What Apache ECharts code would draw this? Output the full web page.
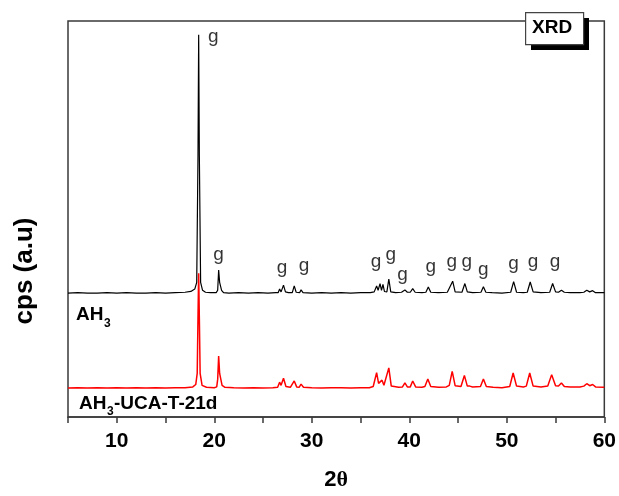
<!DOCTYPE html>
<html>
<head>
<meta charset="utf-8">
<title>XRD</title>
<script src="https://cdn.jsdelivr.net/npm/echarts@6/dist/echarts.min.js"></script>
<style>
  html, body { margin: 0; padding: 0; background: #fff; }
  #chart { width: 619px; height: 496px; }
</style>
</head>
<body>
<div id="chart"></div>
<script>
// 2theta / intensity pairs (raw cps, arbitrary units)
const ah3 = [
  [5, 73], [6, 74], [7, 73], [8, 73], [9, 74], [10, 73], [11, 74], [12, 73], [13, 73], [14, 74],
  [15, 73], [16, 74], [17, 75], [17.6, 77], [18.0, 83], [18.2, 100], [18.33, 420], [18.4, 725],
  [18.47, 420], [18.6, 100], [18.8, 80], [19.1, 75], [19.6, 74], [20.2, 74], [20.35, 80],
  [20.45, 131], [20.55, 100], [20.65, 103], [20.75, 80], [20.95, 74], [21.5, 73], [22.5, 74],
  [23.5, 73], [24.5, 74], [25.5, 73], [26.3, 74], [26.55, 74], [26.7, 83], [26.85, 76], [27.1, 93],
  [27.3, 76], [27.6, 74], [28.0, 74], [28.2, 91], [28.4, 75], [28.75, 74], [28.9, 81], [29.1, 74],
  [30, 73], [31, 74], [32, 73], [33, 74], [34, 73], [35, 74], [36, 74], [36.4, 76], [36.65, 91],
  [36.8, 80], [37.0, 97], [37.15, 80], [37.3, 95], [37.45, 77], [37.7, 76], [37.9, 108], [38.1, 76],
  [38.6, 74], [39.2, 75], [39.55, 81], [39.8, 75], [40.1, 75], [40.35, 84], [40.6, 75], [41.3, 74],
  [41.7, 75], [41.95, 88], [42.2, 75], [43, 74], [43.9, 75], [44.1, 76], [44.45, 103], [44.7, 76],
  [45.4, 75], [45.7, 97], [45.95, 76], [46.5, 74], [47.35, 75], [47.6, 89], [47.85, 75], [48.5, 74],
  [49.5, 73], [50.4, 75], [50.7, 102], [51.0, 75], [51.7, 74], [52.1, 75], [52.4, 101], [52.7, 76],
  [53.5, 74], [54.4, 75], [54.7, 97], [55.0, 76], [55.3, 75], [55.6, 80], [55.9, 75], [56.5, 74],
  [57.5, 74], [57.9, 75], [58.2, 80], [58.5, 76], [58.8, 79], [59.1, 74], [60, 74]
];

const ah3Uca = [
  [5, 73], [6, 74], [7, 73], [8, 74], [9, 73], [10, 74], [11, 73], [12, 74], [13, 73], [14, 74],
  [15, 73], [16, 74], [17, 74], [17.8, 76], [18.1, 82], [18.25, 110], [18.33, 250], [18.4, 363],
  [18.47, 250], [18.55, 110], [18.75, 80], [19.2, 75], [20, 74], [20.25, 76], [20.35, 95],
  [20.45, 154], [20.55, 110], [20.65, 108], [20.8, 80], [21.1, 75], [22, 74], [23, 73], [24, 74],
  [25, 73], [26, 74], [26.5, 75], [26.7, 88], [26.85, 80], [27.1, 98], [27.35, 77], [27.8, 75],
  [28.2, 91], [28.45, 76], [28.7, 75], [28.9, 83], [29.15, 75], [30, 74], [31, 73], [32, 74],
  [33, 74], [34, 73], [35, 74], [35.9, 74], [36.3, 77], [36.65, 112], [36.85, 85], [36.95, 88],
  [37.2, 93], [37.4, 80], [37.6, 78], [37.9, 124], [38.15, 78], [38.9, 75], [39.3, 76], [39.55, 86],
  [39.8, 76], [40.1, 76], [40.35, 91], [40.65, 76], [41.3, 75], [41.6, 77], [41.9, 96], [42.2, 77],
  [43, 75], [43.8, 76], [44.1, 80], [44.4, 115], [44.7, 79], [45.3, 77], [45.65, 105], [45.95, 78],
  [46.2, 78], [46.5, 76], [47.3, 77], [47.6, 96], [47.9, 77], [48.6, 75], [49.5, 74], [50.3, 77],
  [50.65, 111], [51.0, 78], [51.7, 76], [52.0, 78], [52.35, 111], [52.7, 78], [53.5, 76], [54.2, 78],
  [54.6, 107], [55.0, 79], [55.3, 78], [55.6, 86], [55.9, 77], [56.5, 76], [57.5, 76], [57.9, 78],
  [58.2, 84], [58.5, 79], [58.8, 82], [59.1, 76], [60, 75]
];

// vertical offset of the AH3 trace (stacked plot)
const ah3Offset = 240;

// gibbsite ("g") peak marks: 2theta and height of the mark on the stacked plot
const gTheta = [19.9, 20.45, 26.95, 29.2, 36.6, 38.1, 39.3, 42.2, 44.35, 45.9, 47.6, 50.7, 52.7, 54.95];
const gHeight = [961, 409, 377, 382, 393, 409, 358, 379, 393, 393, 373, 386, 392, 392];

const xTicks = [10, 20, 30, 40, 50, 60];

const FONT = 'Liberation Sans, Arial, sans-serif';

const chart = echarts.init(document.getElementById('chart'));

const option = {
  animation: false,
  backgroundColor: '#fff',
  grid: {
    left: 68,
    right: 13,
    top: 21,
    bottom: 78,
    show: true,
    borderColor: '#3a3a3a',
    borderWidth: 1.5
  },
  xAxis: {
    type: 'value',
    min: 5,
    max: 60,
    interval: 5,
    name: '{n|2}{t|θ}',
    nameLocation: 'middle',
    nameGap: 52,
    nameTextStyle: {
      rich: {
        n: { fontFamily: FONT, fontWeight: 'bold', fontSize: 22, color: '#000' },
        t: { fontFamily: 'Liberation Serif, Times New Roman, serif', fontWeight: 'bold', fontSize: 22, color: '#000' }
      }
    },
    axisLine: { show: true, lineStyle: { color: '#3a3a3a', width: 1.5 } },
    axisTick: { show: true, inside: false, length: 6, lineStyle: { color: '#3a3a3a', width: 1.5 } },
    splitLine: { show: false },
    axisLabel: {
      margin: 14,
      fontFamily: FONT,
      fontWeight: 'bold',
      fontSize: 21,
      color: '#000',
      formatter: function (v) {
        return xTicks.indexOf(v) >= 0 ? String(v) : '';
      }
    }
  },
  yAxis: {
    type: 'value',
    min: 0,
    max: 1000,
    axisLine: { show: false },
    axisTick: { show: false },
    axisLabel: { show: false },
    splitLine: { show: false }
  },
  series: [
    {
      name: 'AH3',
      type: 'line',
      data: ah3.map(function (p) { return [p[0], p[1] + ah3Offset]; }),
      showSymbol: false,
      symbol: 'none',
      lineStyle: { color: '#000', width: 1.2 },
      silent: true,
      z: 3
    },
    {
      name: 'AH3-UCA-T-21d',
      type: 'line',
      data: ah3Uca,
      showSymbol: false,
      symbol: 'none',
      lineStyle: { color: '#ff0000', width: 1.5 },
      silent: true,
      z: 2
    },
    {
      name: 'g',
      type: 'scatter',
      data: gTheta.map(function (t, i) { return [t, gHeight[i]]; }),
      symbolSize: 1,
      itemStyle: { color: 'rgba(0,0,0,0)' },
      silent: true,
      label: {
        show: true,
        position: 'inside',
        formatter: 'g',
        fontFamily: FONT,
        fontSize: 19,
        color: '#000'
      },
      z: 5
    }
  ],
  graphic: [
    // y axis title
    {
      type: 'text', x: 25, y: 271, rotation: Math.PI / 2, z: 10,
      style: {
        text: 'cps (a.u)', font: 'bold 26px ' + FONT, fill: '#000',
        align: 'center', verticalAlign: 'middle',
        textAlign: 'center', textVerticalAlign: 'middle'
      }
    },
    // sample names
    {
      type: 'text', left: 76, top: 305, z: 10,
      style: { text: 'AH', font: 'bold 19px ' + FONT, fill: '#000' }
    },
    {
      type: 'text', left: 104, top: 318, z: 10,
      style: { text: '3', font: 'bold 12px ' + FONT, fill: '#000' }
    },
    {
      type: 'text', left: 79, top: 394, z: 10,
      style: { text: 'AH', font: 'bold 19px ' + FONT, fill: '#000' }
    },
    {
      type: 'text', left: 107, top: 406, z: 10,
      style: { text: '3', font: 'bold 12px ' + FONT, fill: '#000' }
    },
    {
      type: 'text', left: 114, top: 394, z: 10,
      style: { text: '-UCA-T-21d', font: 'bold 19px ' + FONT, fill: '#000' }
    },
    // XRD tag with drop shadow
    {
      type: 'rect', left: 531, top: 18, z: 10,
      shape: { width: 58, height: 32 },
      style: { fill: '#000' }
    },
    {
      type: 'rect', left: 525, top: 12, z: 11,
      shape: { width: 58, height: 32 },
      style: { fill: '#fff', stroke: '#444', lineWidth: 1.2 }
    },
    {
      type: 'text', left: 532, top: 18, z: 12,
      style: { text: 'XRD', font: 'bold 19px ' + FONT, fill: '#000' }
    }
  ]
};

chart.setOption(option);
window.addEventListener('resize', function () { chart.resize(); });
</script>
</body>
</html>
